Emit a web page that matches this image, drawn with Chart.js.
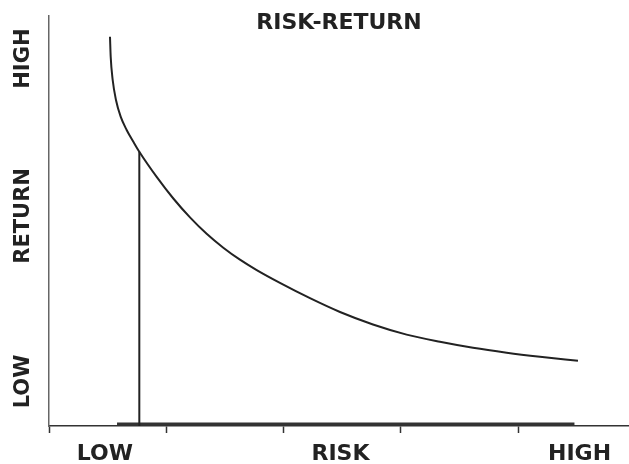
<!DOCTYPE html>
<html>
<head>
<meta charset="utf-8">
<script src="https://cdn.jsdelivr.net/npm/chart.js@4"></script>
<style>
  html, body { margin: 0; padding: 0; background: #fff; }
  #wrap { width: 629px; height: 464px; position: relative; }
</style>
</head>
<body>
<div id="wrap"><canvas id="riskChart"></canvas></div>
<script>
// risk (x) vs return (y)
const curveRisk   = [0.52, 0.526, 0.543, 0.571, 0.611, 0.662, 0.719, 0.77, 0.918, 1.06, 1.202, 1.344, 1.486, 1.628, 1.771, 1.969, 2.225, 2.481, 2.762, 3.049, 3.333, 3.615, 3.902, 4.186, 4.51];
const curveReturn = [94.95, 90.07, 84.39, 79.51, 75.44, 72.2, 69.34, 66.9, 60.76, 55.49, 50.88, 46.88, 43.49, 40.56, 38.02, 34.9, 31.17, 27.8, 24.76, 22.29, 20.54, 19.07, 17.88, 16.9, 15.93];

const markerRisk = [0.77, 0.77];
const markerReturn = [0, 66.9];

const floorRisk = [0.58, 4.48];
const floorReturn = [0.5, 0.5];

const riskTicks = [0, 1, 2, 3, 4];
const riskLabelPos = [0.477, 2.485, 4.523];
const riskLabels = ["LOW", "RISK", "HIGH"];

const returnLabelPos = [96.95, 62.9, 17.4];
const returnLabels = ["HIGH", "RETURN", "LOW"];

const toPoints = (xs, ys) => xs.map((x, i) => ({x: x, y: ys[i]}));

const ink = "#222";
const fontFam = "'DejaVu Sans', sans-serif";

new Chart(document.getElementById("riskChart"), {
  type: "line",
  data: {
    datasets: [
      {
        data: toPoints(curveRisk, curveReturn),
        borderColor: ink,
        borderWidth: 2,
        pointRadius: 0,
        cubicInterpolationMode: "monotone"
      },
      {
        data: toPoints(markerRisk, markerReturn),
        borderColor: ink,
        borderWidth: 2,
        pointRadius: 0
      },
      {
        data: toPoints(floorRisk, floorReturn),
        borderColor: "#333",
        borderWidth: 3,
        pointRadius: 0
      }
    ]
  },
  options: {
    responsive: true,
    maintainAspectRatio: false,
    animation: false,
    layout: { padding: 0 },
    plugins: {
      legend: { display: false },
      tooltip: { enabled: false },
      title: {
        display: true,
        text: "RISK-RETURN",
        fullSize: false,
        color: ink,
        font: { family: fontFam, size: 22, weight: "bold" },
        padding: { top: 10.5, bottom: -20.9 }
      }
    },
    scales: {
      x: {
        type: "linear",
        min: 0,
        max: 4.945,
        afterBuildTicks: s => {
          s.ticks = riskTicks.concat(riskLabelPos).map(v => ({value: v}));
        },
        afterFit: s => {
          s.height = 38;
          s.paddingLeft = 0;
          s.paddingRight = 0;
        },
        border: { display: true, color: "#333", width: 1.5 },
        grid: {
          drawOnChartArea: false,
          tickLength: 7,
          tickWidth: 1.5,
          tickColor: ctx => riskTicks.includes(ctx.tick && ctx.tick.value) ? "#333" : "rgba(0,0,0,0)"
        },
        ticks: {
          autoSkip: false,
          maxRotation: 0,
          padding: 8,
          color: ink,
          font: { family: fontFam, size: 22, weight: "bold" },
          callback: v => {
            const i = riskLabelPos.indexOf(v);
            return i >= 0 ? riskLabels[i] : "";
          }
        }
      },
      y: {
        type: "linear",
        min: 0,
        max: 100,
        afterBuildTicks: s => {
          s.ticks = returnLabelPos.map(v => ({value: v}));
        },
        afterFit: s => {
          s.width = 49;
          s.paddingTop = 0;
          s.paddingBottom = 0;
        },
        border: { display: true, color: "#666", width: 1.5 },
        grid: { display: false, drawTicks: false },
        ticks: {
          autoSkip: false,
          minRotation: 90,
          maxRotation: 90,
          padding: 25,
          color: ink,
          font: { family: fontFam, size: 21, weight: "bold" },
          callback: v => {
            const i = returnLabelPos.indexOf(v);
            return i >= 0 ? returnLabels[i] : "";
          }
        }
      }
    }
  }
});
</script>
</body>
</html>
